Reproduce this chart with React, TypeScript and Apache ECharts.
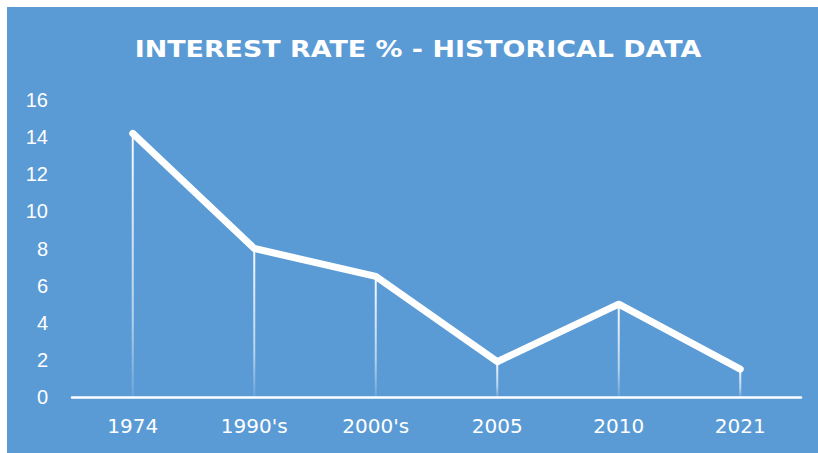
import React, { useEffect, useRef } from "react";
import * as echarts from "echarts";

const titleText = "INTEREST RATE % - HISTORICAL DATA";
const categories = ["1974", "1990's", "2000's", "2005", "2010", "2021"];
const rates = [14.2, 8.0, 6.5, 1.9, 5.0, 1.5];
const yTicks = [0, 2, 4, 6, 8, 10, 12, 14, 16];

export default function App() {
  const ref = useRef<HTMLDivElement>(null);
  useEffect(() => {
    const chart = echarts.init(ref.current!, null, { renderer: "svg" });
    chart.setOption({
      animation: false,
      backgroundColor: "#ffffff",
      graphic: [
        {
          type: "rect",
          z: -10,
          shape: { x: 7, y: 7, width: 811, height: 446 },
          style: { fill: "#5B9BD5" },
        },
        {
          type: "text",
          x: 418,
          y: 49,
          scaleX: 1.17,
          style: {
            text: titleText,
            fill: "#ffffff",
            font: "bold 23px 'DejaVu Sans'",
            textAlign: "center",
            textVerticalAlign: "middle",
          },
        },
      ],
      grid: { left: 72, right: 17, top: 100, bottom: 56 },
      xAxis: {
        type: "category",
        data: categories,
        boundaryGap: true,
        axisLine: { show: true, lineStyle: { color: "#ffffff", width: 2.5 } },
        axisTick: { show: false },
        axisLabel: {
          color: "#ffffff",
          fontFamily: "DejaVu Sans",
          fontSize: 20,
          margin: 19,
        },
      },
      yAxis: {
        type: "value",
        min: yTicks[0],
        max: yTicks[yTicks.length - 1],
        interval: 2,
        splitLine: { show: false },
        axisLine: { show: false },
        axisTick: { show: false },
        axisLabel: {
          color: "#ffffff",
          fontFamily: "Liberation Sans",
          fontSize: 20,
          margin: 24,
        },
      },
      series: [
        {
          type: "bar",
          data: rates,
          barWidth: 2,
          z: 1,
          itemStyle: {
            color: new echarts.graphic.LinearGradient(0, 0, 0, 1, [
              { offset: 0, color: "rgba(255,255,255,0.95)" },
              { offset: 0.7, color: "rgba(255,255,255,0.55)" },
              { offset: 1, color: "rgba(255,255,255,0.1)" },
            ]),
          },
        },
        {
          type: "line",
          data: rates,
          z: 3,
          symbol: "none",
          lineStyle: { color: "#ffffff", width: 7, cap: "round", join: "round" },
        },
      ],
    });
    return () => chart.dispose();
  }, []);
  return (
    <div
      ref={ref}
      style={{ position: "fixed", left: 0, top: 0, width: 818, height: 453 }}
    />
  );
}
